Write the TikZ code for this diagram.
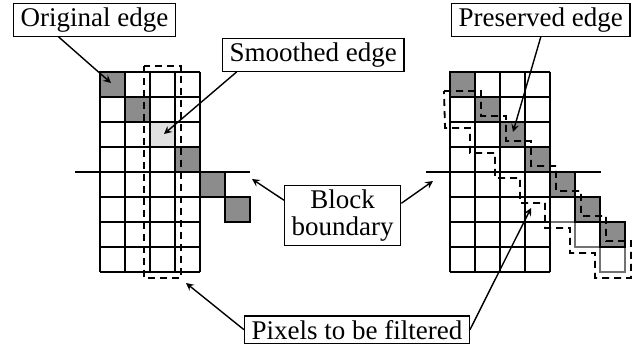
\documentclass[tikz,border=0pt]{standalone}
\usepackage{fontspec}
\setmainfont{Liberation Serif}
\usetikzlibrary{positioning,calc}

\begin{document}
\begin{tikzpicture}[x=0.5pt, y=-0.5pt,
    lbl/.style={rectangle, draw=black, line width=0.7pt, inner xsep=3.5pt, inner ysep=2pt, align=center, font=\fontsize{13.5}{13.5}\selectfont},
    edgepx/.style={fill=black!45, draw=black, line width=0.8pt},
    smoothpx/.style={fill=black!12},
    extrapx/.style={draw=black!55, line width=0.8pt},
    pxline/.style={line width=0.8pt},
    filt/.style={line width=0.9pt, dash pattern=on 3.5pt off 2.5pt},
    bnd/.style={line width=1.4pt}]
            \useasboundingbox (0,0) rectangle (637,347);

            % left block: original edge, smoothed
            \foreach \r in {0,1,3,4,5}
                \filldraw [edgepx] (100+25*\r, 72+25*\r) rectangle ++(25,25);
            \fill [smoothpx] (150,122) rectangle ++(25,25);
            \foreach \i in {0,...,4}
                \draw [pxline] (100+25*\i, 72) -- ++(0,200);
            \foreach \j in {0,...,8}
                \draw [pxline] (100, 72+25*\j) -- ++(100,0);
            \draw [filt] (144,66) rectangle (181,278);
            \draw [bnd] (75,172) -- (250,172);

            % right block: preserved edge
            \foreach \r in {4,5,6}
                \draw [extrapx] (450+25*\r, 97+25*\r) rectangle ++(25,25);
            \foreach \r in {0,...,6}
                \filldraw [edgepx] (450+25*\r, 72+25*\r) rectangle ++(25,25);
            \foreach \i in {0,...,4}
                \draw [pxline] (450+25*\i, 72) -- ++(0,200);
            \foreach \j in {0,...,8}
                \draw [pxline] (450, 72+25*\j) -- ++(100,0);
            \draw [filt] (444,91) -- (481,91) -- (481,116) -- (506,116) -- (506,141) -- (531,141)
                -- (531,166) -- (556,166) -- (556,191) -- (581,191) -- (581,216) -- (606,216)
                -- (606,241) -- (631,241) -- (631,278) -- (595,278) -- (595,253) -- (570,253)
                -- (570,228) -- (545,228) -- (545,203) -- (520,203) -- (520,178) -- (495,178)
                -- (495,153) -- (470,153) -- (470,128) -- (445,128) -- cycle;
            \draw [bnd] (426,172) -- (601,172);

            % labels
            \node (orig) [lbl, anchor=north west] at (13,3) {Original edge};
            \node (smooth) [lbl, anchor=north west] at (222,38) {Smoothed edge};
            \node (pres) [lbl, anchor=north west] at (451,3) {Preserved edge};
            \node (blk) [lbl, anchor=north west] at (284,185) {Block\\boundary};
            \node (pix) [lbl, anchor=south east] at (470,344) {Pixels to be filtered};

            \coordinate (origtip) at (111,83);
            \coordinate (smoothtip) at (164,134);
            \coordinate (prestip) at (513,132);
            \coordinate (lbtip) at (252,179);
            \coordinate (rbtip) at (433,181);
            \coordinate (lfilttip) at (186,283);
            \coordinate (rfilttip) at (531,208);

            \draw [-stealth, line width=0.7pt] ($(orig.south west)!0.28!(orig.south east)$) -- (origtip);
            \draw [-stealth, line width=0.7pt] ($(smooth.south west)!0.08!(smooth.south east)$) -- (smoothtip);
            \draw [-stealth, line width=0.7pt] (pres.south) -- (prestip);
            \draw [-stealth, line width=0.7pt] ($(blk.north west)!0.25!(blk.south west)$) -- (lbtip);
            \draw [-stealth, line width=0.7pt] ($(blk.north east)!0.3!(blk.south east)$) -- (rbtip);
            \draw [-stealth, line width=0.7pt] (pix.west) -- (lfilttip);
            \draw [-stealth, line width=0.7pt] (pix.east) -- (rfilttip);
        \end{tikzpicture}
\end{document}
